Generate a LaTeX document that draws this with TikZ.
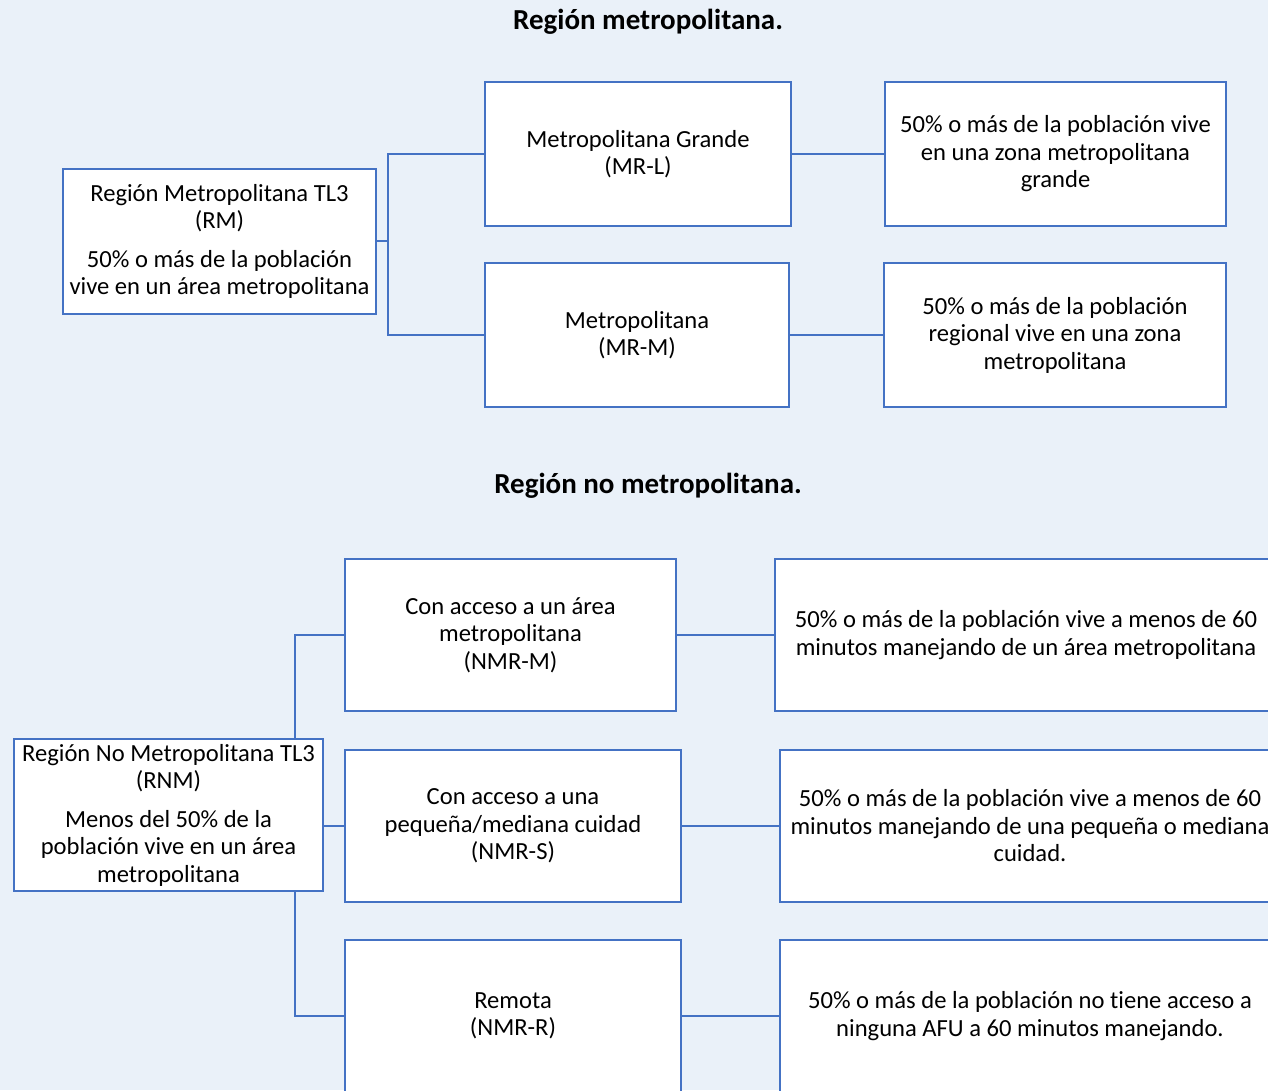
\documentclass[tikz,border=0pt]{standalone}
\usepackage{fontspec}
\setmainfont{Carlito}[Ligatures=NoCommon]
\definecolor{bgc}{RGB}{234,241,249}
\definecolor{bluec}{RGB}{68,114,196}
\begin{document}
\begin{tikzpicture}[x=1pt,y=-1pt,
  box/.style={draw=bluec,line width=2.5pt,fill=white,inner sep=0pt,align=center,
    font=\fontsize{24.6}{27.5}\selectfont},
  conn/.style={draw=bluec,line width=1.6pt},
  ttl/.style={font=\fontsize{29}{32}\selectfont\bfseries}]
\useasboundingbox (0,0) rectangle (1268,1090);
\clip (0,0) rectangle (1268,1090);
\fill[bgc] (0,0) rectangle (1268,1090);
% titles
\node[ttl] (t1) at (648,22) {Región metropolitana.};
\node[ttl] (t2) at (648,486) {Región no metropolitana.};
% metropolitan
\node[box,minimum width=313pt,minimum height=145pt] (rm) at (219.5,241.5)
 {Región Metropolitana TL3\\(RM)\\[11pt]50\% o más de la población\\vive en un área metropolitana};
\node[box,minimum width=306pt,minimum height=144pt] (mrl) at (638,154)
 {Metropolitana Grande\\(MR-L)};
\node[box,minimum width=304pt,minimum height=144pt] (mrm) at (637,335)
 {Metropolitana\\(MR-M)};
\node[box,minimum width=341pt,minimum height=144pt] (d1) at (1055.5,154)
 {50\% o más de la población vive\\en una zona metropolitana\\grande};
\node[box,minimum width=342pt,minimum height=144pt] (d2) at (1055,335)
 {50\% o más de la población\\regional vive en una zona\\metropolitana};
\coordinate (j1) at (388,241);
\draw[conn] (rm.east |- j1) -- (j1);
\draw[conn] (mrl.west) -| (j1) |- (mrm.west);
\draw[conn] (mrl.east) -- (d1.west);
\draw[conn] (mrm.east) -- (d2.west);
% non metropolitan
\node[box,minimum width=309pt,minimum height=152pt] (rnm) at (168.5,815)
 {Región No Metropolitana TL3\\(RNM)\\[11pt]Menos del 50\% de la\\población vive en un área\\metropolitana};
\node[box,minimum width=331pt,minimum height=152pt] (nm) at (510.5,635)
 {Con acceso a un área\\metropolitana\\(NMR-M)};
\node[box,minimum width=336pt,minimum height=152pt] (ns) at (513,826)
 {Con acceso a una\\pequeña/mediana cuidad\\(NMR-S)};
\node[box,minimum width=336pt,minimum height=152pt] (nr) at (513,1016)
 {Remota\\(NMR-R)};
\node[box,minimum width=502pt,minimum height=152pt] (e1) at (1026,635)
 {50\% o más de la población vive a menos de 60\\minutos manejando de un área metropolitana};
\node[box,minimum width=500pt,minimum height=152pt] (e2) at (1030,826)
 {50\% o más de la población vive a menos de 60\\minutos manejando de una pequeña o mediana\\cuidad.};
\node[box,minimum width=500pt,minimum height=152pt] (e3) at (1030,1016)
 {50\% o más de la población no tiene acceso a\\ninguna AFU a 60 minutos manejando.};
\coordinate (j2) at (295,635);
\coordinate (j3) at (295,1016);
\draw[conn] (nm.west) -- (j2) -- (j2 |- rnm.north);
\draw[conn] (nr.west) -- (j3) -- (j3 |- rnm.south);
\draw[conn] (rnm.east |- ns.west) -- (ns.west);
\draw[conn] (nm.east) -- (e1.west);
\draw[conn] (ns.east) -- (e2.west);
\draw[conn] (nr.east) -- (e3.west);
\end{tikzpicture}
\end{document}
